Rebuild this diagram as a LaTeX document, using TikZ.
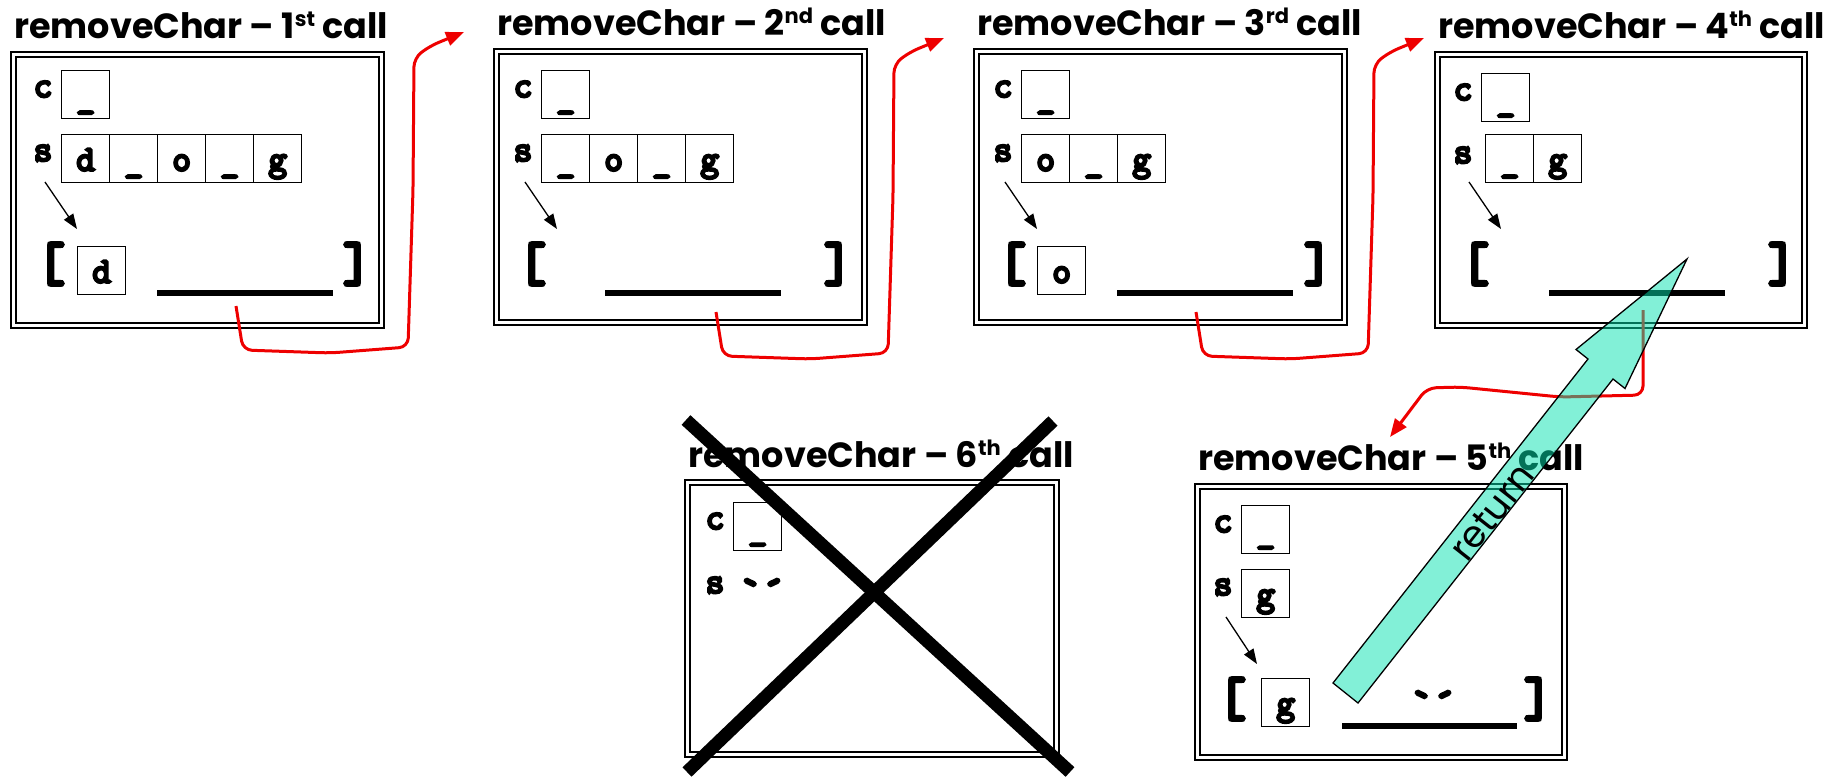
\documentclass[tikz,border=0pt]{standalone}
\usepackage{fontspec}
\setmainfont{Poppins}
\newfontfamily\monob{Latin Modern Mono}[FakeBold=7]
\usetikzlibrary{arrows.meta}
\definecolor{retfill}{RGB}{6,226,176}
\definecolor{callred}{RGB}{238,0,0}
\newcommand\callord[2]{#1\raisebox{12pt}{\fontsize{21}{21}\selectfont #2}}
\tikzset{
  ttl/.style={anchor=base west, inner sep=0pt, font=\fontsize{35}{40}\selectfont\bfseries},
  stackframe/.style={draw, line width=2pt, double, double distance=3pt, anchor=north west, inner sep=0pt, outer sep=0pt, minimum width=368pt, minimum height=271pt},
  cell/.style={draw, line width=1.3pt, minimum size=48pt, inner sep=0pt, anchor=north west, text height=30pt, text depth=6pt, font=\monob\fontsize{36}{36}\selectfont},
  varname/.style={anchor=base, inner sep=0pt, font=\monob\fontsize{36}{36}\selectfont},
  strlit/.style={anchor=base, inner sep=0pt, font=\monob\fontsize{46}{46}\selectfont},
  brk/.style={inner sep=0pt, font=\monob\fontsize{54}{54}\selectfont},
  ptr/.style={line width=1.3pt, -{Triangle[length=15pt,width=11pt]}},
  blank/.style={line width=6pt},
  callarrow/.style={draw=callred, line width=3pt, -{Triangle[length=18pt,width=14pt]}, rounded corners=9pt},
  retarrow/.style={draw=black, line width=1.3pt, fill=retfill, fill opacity=0.5},
  crossline/.style={line width=13pt},
}
\begin{document}
\begin{tikzpicture}[x=1pt, y=-1pt]
\useasboundingbox (0,0) rectangle (1839,779);

% ---------- frame 1 ----------
\node[ttl] (t1) at (14,38) {removeChar – \callord{1}{st} call};
\node[stackframe] (f1) at (13.5,54.5) {};
\node[varname] (lc1) at (43,97) {c};
\node[cell] (c1) at (61,70) {\_};
\node[varname] (ls1) at (43,161) {s};
\node[cell] (s1a) at (61,134) {d};
\node[cell] (s1b) at (109,134) {\_};
\node[cell] (s1c) at (157,134) {o};
\node[cell] (s1d) at (205,134) {\_};
\node[cell] (s1e) at (253,134) {g};
\coordinate (p1a) at (45,182); \coordinate (p1b) at (77,229);
\draw[ptr] (p1a) -- (p1b);
\node[brk] (lb1) at (51,264) {[};
\node[cell] (h1) at (77,246) {d};
\draw[blank] (157,293) -- (333,293);
\node[brk] (rb1) at (357,264) {]};

% ---------- frame 2 ----------
\node[ttl] (t2) at (497,35) {removeChar – \callord{2}{nd} call};
\node[stackframe] (f2) at (496.5,51.5) {};
\node[varname] (lc2) at (523,97) {c};
\node[cell] (c2) at (541,70) {\_};
\node[varname] (ls2) at (523,161) {s};
\node[cell] (s2a) at (541,134) {\_};
\node[cell] (s2b) at (589,134) {o};
\node[cell] (s2c) at (637,134) {\_};
\node[cell] (s2d) at (685,134) {g};
\coordinate (p2a) at (525,182); \coordinate (p2b) at (557,229);
\draw[ptr] (p2a) -- (p2b);
\node[brk] (lb2) at (532,264) {[};
\draw[blank] (605,293) -- (781,293);
\node[brk] (rb2) at (838,264) {]};

% ---------- frame 3 ----------
\node[ttl] (t3) at (977,35) {removeChar – \callord{3}{rd} call};
\node[stackframe] (f3) at (976.5,51.5) {};
\node[varname] (lc3) at (1003,97) {c};
\node[cell] (c3) at (1021,70) {\_};
\node[varname] (ls3) at (1003,161) {s};
\node[cell] (s3a) at (1021,134) {o};
\node[cell] (s3b) at (1069,134) {\_};
\node[cell] (s3c) at (1117,134) {g};
\coordinate (p3a) at (1005,182); \coordinate (p3b) at (1037,229);
\draw[ptr] (p3a) -- (p3b);
\node[brk] (lb3) at (1012,264) {[};
\node[cell] (h3) at (1037,246) {o};
\draw[blank] (1117,293) -- (1293,293);
\node[brk] (rb3) at (1318,264) {]};

% ---------- frame 4 ----------
\node[ttl] (t4) at (1438,38) {removeChar – \callord{4}{th} call};
\node[stackframe, minimum width=367pt] (f4) at (1437.5,54.5) {};
\node[varname] (lc4) at (1463,100) {c};
\node[cell] (c4) at (1481,73) {\_};
\node[varname] (ls4) at (1463,163) {s};
\node[cell] (s4a) at (1485,134) {\_};
\node[cell] (s4b) at (1533,134) {g};
\coordinate (p4a) at (1469,182); \coordinate (p4b) at (1501,229);
\draw[ptr] (p4a) -- (p4b);
\node[brk] (lb4) at (1475,264) {[};
\draw[blank] (1549,293) -- (1725,293);
\node[brk] (rb4) at (1782,264) {]};

% ---------- frame 5 ----------
\node[ttl] (t5) at (1198,470) {removeChar – \callord{5}{th} call};
\node[stackframe, minimum width=367pt] (f5) at (1197.5,486.5) {};
\node[varname] (lc5) at (1223,532) {c};
\node[cell] (c5) at (1241,505) {\_};
\node[varname] (ls5) at (1223,595) {s};
\node[cell] (s5a) at (1241,569) {g};
\coordinate (p5a) at (1226,617); \coordinate (p5b) at (1257,664);
\draw[ptr] (p5a) -- (p5b);
\node[brk] (lb5) at (1232,699) {[};
\node[cell] (h5) at (1261,678) {g};
\node[strlit] (q5) at (1433,720) {`´};
\draw[blank] (1342,726) -- (1517,726);
\node[brk] (rb5) at (1538,699) {]};

% ---------- frame 6 ----------
\node[ttl] (t6) at (688,467) {removeChar – \callord{6}{th} call};
\node[stackframe, minimum width=369pt, minimum height=272pt] (f6) at (687.5,482.5) {};
\node[varname] (lc6) at (715,529) {c};
\node[cell] (c6) at (733,502) {\_};
\node[varname] (ls6) at (715,593) {s};
\node[strlit] (q6) at (762,608) {`´};

% ---------- call arrows ----------
\coordinate (r1s) at (236,306); \coordinate (r1e) at (464,32);
\draw[callarrow] (r1s) -- (243,350) -- (330,353) -- (408,347) -- (413,190) -- (414,58) -- (430,46) -- (r1e);
\coordinate (r2s) at (716,312); \coordinate (r2e) at (944,38);
\draw[callarrow] (r2s) -- (723,356) -- (810,359) -- (888,353) -- (893,196) -- (894,64) -- (910,52) -- (r2e);
\coordinate (r3s) at (1196,312); \coordinate (r3e) at (1424,38);
\draw[callarrow] (r3s) -- (1203,356) -- (1290,359) -- (1368,353) -- (1373,196) -- (1374,64) -- (1390,52) -- (r3e);
\coordinate (r4s) at (1643,310); \coordinate (r4e) at (1390,437);
\draw[callarrow] (r4s) -- (1643,395) -- (1560,397) -- (1460,387) -- (1427,388) -- (r4e);

% ---------- return arrow ----------
\draw[retarrow] (1358,703) -- (1613,379) -- (1625,388.5) -- (1687,259) -- (1576,349.5) -- (1588,359) -- (1333,683) -- cycle;
\node[rotate=51.8, inner sep=0pt, font=\fontsize{37}{37}\selectfont] (ret) at (1492,512) {return};

% ---------- cross over 6th call ----------
\draw[crossline] (686,420) -- (1070,772);
\draw[crossline] (1053,421) -- (687,772);
\end{tikzpicture}
\end{document}
